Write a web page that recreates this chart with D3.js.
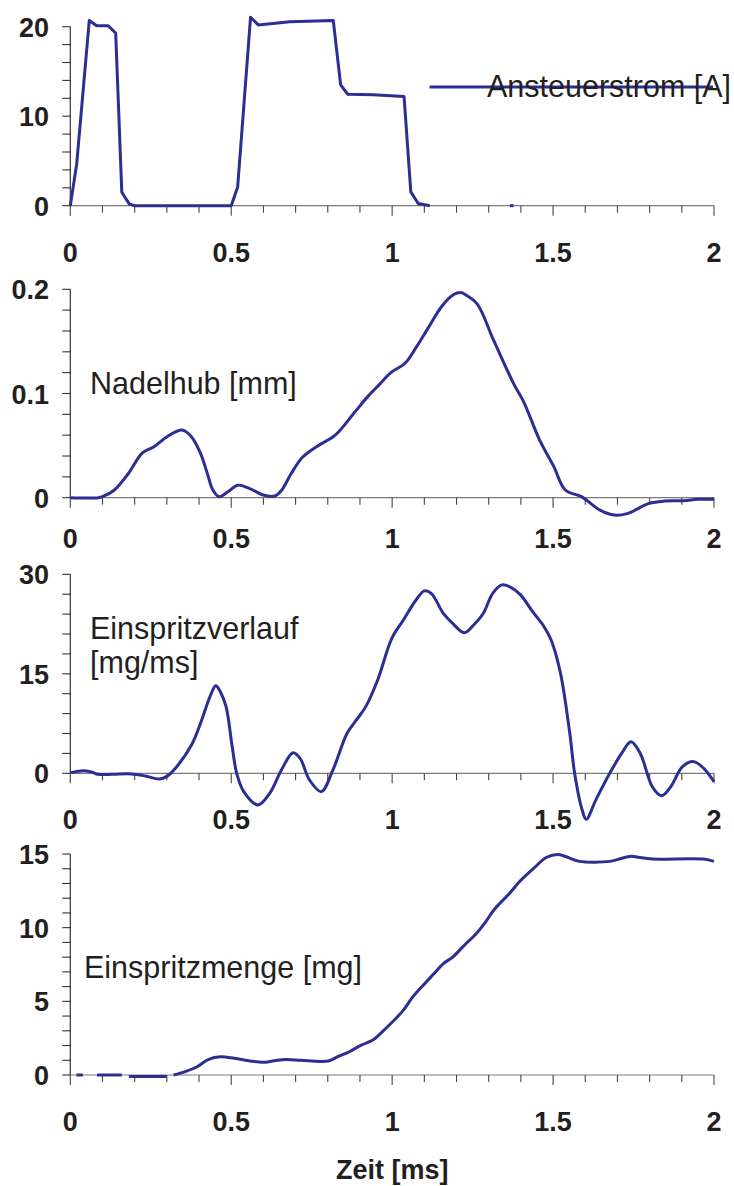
<!DOCTYPE html>
<html><head><meta charset="utf-8">
<script src="https://cdn.jsdelivr.net/npm/d3@7"></script>
<style>body{margin:0;background:#fff;} svg{display:block}</style>
</head><body>
<svg id="c" width="734" height="1186"></svg>
<script>
// ---------- DATA ----------
const xTickValues = [0, 0.5, 1, 1.5, 2];
const xTickLabels = ["0", "0.5", "1", "1.5", "2"];
const xLabel = "Zeit [ms]";

// Ansteuerstrom [A]
const currentT = [0, 0.02, 0.059, 0.082, 0.118, 0.141, 0.16, 0.183, 0.2, 0.5, 0.52, 0.56, 0.584, 0.682, 0.817, 0.84, 0.862, 0.94, 1.037, 1.058, 1.081, 1.117];
const currentV = [0, 4.7, 20.7, 20.1, 20.1, 19.3, 1.5, 0.2, 0, 0, 2.1, 21.05, 20.2, 20.55, 20.7, 13.5, 12.45, 12.4, 12.2, 1.55, 0.25, 0];
const currentDotT = [1.366, 1.377];
const currentDotV = [0, 0];
const currentYTicks = [0, 10, 20];
const currentYTickLabels = ["0", "10", "20"];

// Nadelhub [mm]
const liftT = [0, 0.087, 0.1, 0.137, 0.18, 0.224, 0.26, 0.303, 0.347, 0.375, 0.404, 0.426, 0.443, 0.462, 0.491, 0.52, 0.556, 0.599, 0.635, 0.657, 0.686, 0.722, 0.765, 0.823, 0.881, 0.924, 0.96, 0.996, 1.04, 1.076, 1.112, 1.155, 1.191, 1.213, 1.227, 1.264, 1.314, 1.379, 1.408, 1.458, 1.502, 1.538, 1.588, 1.646, 1.69, 1.733, 1.798, 1.848, 1.906, 1.95, 2];
const liftV = [0, 0, 0.001, 0.0074, 0.023, 0.043, 0.049, 0.059, 0.065, 0.059, 0.043, 0.023, 0.0074, 0.001, 0.006, 0.012, 0.009, 0.0026, 0.0016, 0.0074, 0.023, 0.039, 0.049, 0.06, 0.081, 0.097, 0.1085, 0.12, 0.129, 0.145, 0.163, 0.184, 0.195, 0.197, 0.195, 0.186, 0.152, 0.1085, 0.0925, 0.0555, 0.03, 0.0074, 0.001, -0.0119, -0.0167, -0.015, -0.0055, -0.0032, -0.0029, -0.0016, -0.0016];
const liftYTicks = [0, 0.1, 0.2];
const liftYTickLabels = ["0", "0.1", "0.2"];

// Einspritzverlauf [mg/ms]
const rateT = [0, 0.041, 0.066, 0.087, 0.131, 0.19, 0.233, 0.277, 0.299, 0.335, 0.379, 0.408, 0.434, 0.452, 0.466, 0.484, 0.503, 0.517, 0.539, 0.583, 0.62, 0.656, 0.692, 0.714, 0.743, 0.78, 0.816, 0.86, 0.889, 0.918, 0.955, 0.999, 1.035, 1.071, 1.1, 1.122, 1.159, 1.188, 1.224, 1.254, 1.283, 1.312, 1.341, 1.37, 1.399, 1.436, 1.472, 1.494, 1.523, 1.552, 1.567, 1.589, 1.603, 1.633, 1.676, 1.713, 1.742, 1.771, 1.808, 1.837, 1.866, 1.902, 1.936, 1.968, 2.0];
const rateV = [0.1, 0.4, 0.2, -0.15, -0.15, -0.1, -0.4, -0.85, -0.5, 1.26, 4.5, 8.0, 11.56, 13.2, 12.3, 10.05, 4.0, 0, -2.76, -4.77, -3.0, 0.5, 3.1, 2.26, -1.0, -2.76, 0.5, 6.03, 8.04, 10.05, 14.07, 20.35, 23.1, 25.9, 27.5, 27.1, 24.1, 22.6, 21.2, 22.4, 24.1, 27.1, 28.4, 28.0, 26.9, 24.4, 22.1, 20.1, 15.1, 6.0, 0, -5.3, -6.93, -4.0, 0, 3.0, 4.77, 3.0, -2.0, -3.4, -2.0, 1.0, 1.76, 0.75, -1.26];
const rateYTicks = [0, 15, 30];
const rateYTickLabels = ["0", "15", "30"];

// Einspritzmenge [mg]  (null = gap in the trace)
const massT = [0.019, 0.039, 0.06, 0.083, 0.16, 0.17, 0.182, 0.299, 0.31, 0.321, 0.357, 0.394, 0.43, 0.466, 0.51, 0.554, 0.598, 0.634, 0.671, 0.714, 0.751, 0.802, 0.831, 0.867, 0.904, 0.94, 0.969, 1.006, 1.035, 1.064, 1.101, 1.13, 1.159, 1.188, 1.224, 1.261, 1.29, 1.319, 1.363, 1.399, 1.443, 1.48, 1.516, 1.545, 1.582, 1.676, 1.706, 1.742, 1.764, 1.808, 1.968, 2.0];
const massV = [0, 0, null, 0, 0, null, -0.1, -0.1, null, 0, 0.23, 0.56, 1.06, 1.24, 1.13, 0.97, 0.86, 0.97, 1.06, 1.0, 0.95, 0.95, 1.24, 1.58, 2.03, 2.37, 2.93, 3.72, 4.4, 5.3, 6.2, 6.88, 7.56, 8.0, 8.8, 9.59, 10.38, 11.28, 12.29, 13.2, 14.1, 14.78, 14.96, 14.78, 14.5, 14.5, 14.66, 14.84, 14.78, 14.66, 14.66, 14.5];
const massYTicks = [0, 5, 10, 15];
const massYTickLabels = ["0", "5", "10", "15"];

const seriesNames = ["Ansteuerstrom [A]", "Nadelhub [mm]", "Einspritzverlauf", "[mg/ms]", "Einspritzmenge [mg]"];

// ---------- DRAWING ----------
const svg = d3.select("#c");
const BLUE = "#2b2e93", TXT = "#231f20";
const x = d3.scaleLinear().domain([0, 2]).range([70.3, 714]);

const zip = (t, v) => t.map((d, i) => ({t: d, v: v[i]}));

const panels = [
  {domain: [0, 20], range: [205.7, 26.7], minor: 2, ticks: currentYTicks, labels: currentYTickLabels, lblOff: 56,
   series: [{data: zip(currentT, currentV), curve: d3.curveLinear}, {data: zip(currentDotT, currentDotV), curve: d3.curveLinear}]},
  {domain: [0, 0.2], range: [497.7, 289.3], minor: 0.02, ticks: liftYTicks, labels: liftYTickLabels, lblOff: 50,
   series: [{data: zip(liftT, liftV), curve: d3.curveCatmullRom.alpha(0.5)}]},
  {domain: [0, 30], range: [773.3, 574.3], minor: 3, ticks: rateYTicks, labels: rateYTickLabels, lblOff: 56,
   series: [{data: zip(rateT, rateV), curve: d3.curveCatmullRom.alpha(0.5)}]},
  {domain: [0, 15], range: [1075, 854], minor: 1, ticks: massYTicks, labels: massYTickLabels, lblOff: 56,
   series: [{data: zip(massT, massV), curve: d3.curveCatmullRom.alpha(0.5)}]}
];

panels.forEach(p => {
  const y = d3.scaleLinear().domain(p.domain).range(p.range);
  const g = svg.append("g");
  const y0 = y(0);
  g.append("line").attr("x1", x(0)).attr("x2", x(2)).attr("y1", y0).attr("y2", y0)
    .attr("stroke", "#7a7a7a").attr("stroke-width", 1.2);
  const xt = d3.range(0, 2.0001, 0.1).map(v => Math.round(v * 10) / 10);
  g.selectAll(".xt").data(xt).enter().append("line")
    .attr("x1", d => x(d)).attr("x2", d => x(d))
    .attr("y1", y0).attr("y2", d => y0 + ((Math.abs(d * 2 - Math.round(d * 2)) < 1e-6) ? 10 : 7))
    .attr("stroke", "#444").attr("stroke-width", 1.1);
  g.append("line").attr("x1", x(0)).attr("x2", x(0)).attr("y1", y(p.domain[1])).attr("y2", y0)
    .attr("stroke", "#333").attr("stroke-width", 1.2);
  const n = Math.round((p.domain[1] - p.domain[0]) / p.minor);
  const yt = d3.range(0, n + 1).map(i => p.domain[0] + i * p.minor);
  g.selectAll(".yt").data(yt).enter().append("line")
    .attr("x1", x(0) - 8).attr("x2", x(0)).attr("y1", d => y(d)).attr("y2", d => y(d))
    .attr("stroke", "#333").attr("stroke-width", 1.1);
  g.selectAll(".yl").data(p.ticks).enter().append("text")
    .attr("x", 49).attr("y", d => y(d) + 10).attr("text-anchor", "end")
    .attr("font-family", "Liberation Sans, Arial, sans-serif").attr("font-weight", "bold")
    .attr("font-size", 27).attr("fill", TXT)
    .text((d, i) => p.labels[i]);
  g.selectAll(".xl").data(xTickValues).enter().append("text")
    .attr("x", d => x(d)).attr("y", y0 + p.lblOff).attr("text-anchor", "middle")
    .attr("font-family", "Liberation Sans, Arial, sans-serif").attr("font-weight", "bold")
    .attr("font-size", 27).attr("fill", TXT)
    .text((d, i) => xTickLabels[i]);
  p.series.forEach(s => {
    const line = d3.line().defined(d => d.v !== null).x(d => x(d.t)).y(d => y(d.v)).curve(s.curve);
    g.append("path").attr("d", line(s.data)).attr("fill", "none")
      .attr("stroke", BLUE).attr("stroke-width", 3).attr("stroke-linejoin", "round");
  });
});

svg.append("line").attr("x1", 429.5).attr("x2", 713).attr("y1", 87).attr("y2", 87)
  .attr("stroke", BLUE).attr("stroke-width", 3);
const titleFont = "Liberation Sans, Arial, sans-serif";
function title(txt, xx, yy) {
  svg.append("text").attr("x", xx).attr("y", yy).attr("font-family", titleFont)
    .attr("font-size", 30.5).attr("fill", TXT).text(txt);
}
title(seriesNames[0], 487, 97);
title(seriesNames[1], 90, 394);
title(seriesNames[2], 90, 639);
title(seriesNames[3], 90, 673);
title(seriesNames[4], 84, 978);

svg.append("text").attr("x", (x(0) + x(2)) / 2).attr("y", 1179).attr("text-anchor", "middle")
  .attr("font-family", titleFont).attr("font-weight", "bold").attr("font-size", 27)
  .attr("fill", TXT).text(xLabel);
</script>
</body></html>
